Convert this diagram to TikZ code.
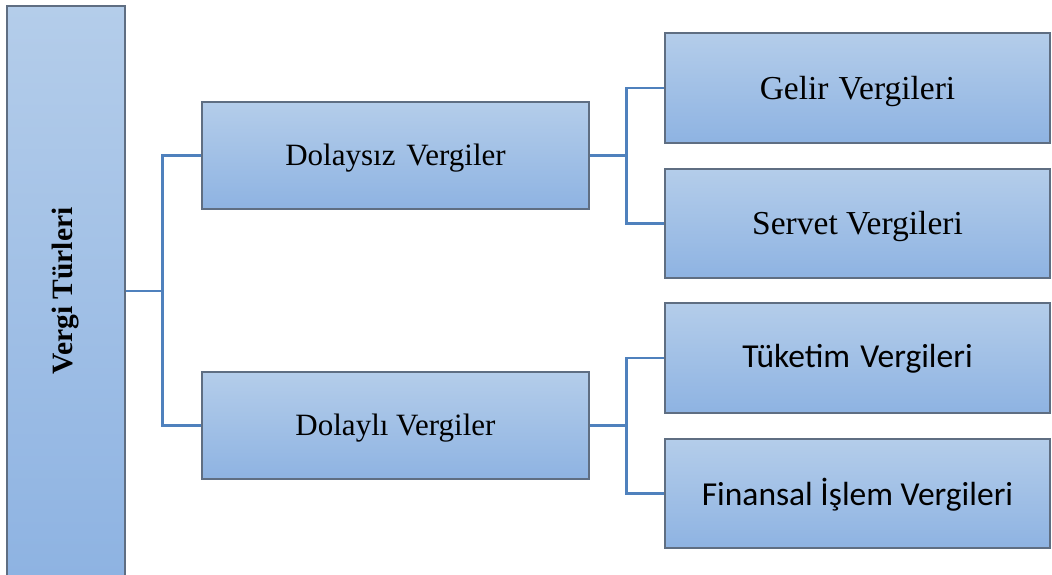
\documentclass[tikz,border=0pt]{standalone}
\usepackage{fontspec}
\setmainfont{Liberation Serif}
\newfontfamily\calib{Carlito}
\definecolor{boxtop}{HTML}{B4CDEA}
\definecolor{boxbot}{HTML}{8EB3E2}
\definecolor{boxline}{HTML}{5F6E82}
\definecolor{connline}{HTML}{4F81BD}
\newcommand{\lowr}[2]{\raisebox{-#1}[\height][\depth]{#2}}
\tikzset{
  box/.style={draw=boxline, line width=1.1pt, top color=boxtop, bottom color=boxbot,
    inner sep=0pt, text=black, align=center},
  conn/.style={draw=connline, line width=2.4pt},
}
\begin{document}
\begin{tikzpicture}[x=1pt,y=-1pt]
\useasboundingbox (0,0) rectangle (1052,574);
\begin{scope}
\clip (0,0) rectangle (1052,574);
\node[box, minimum width=118pt, minimum height=570pt] (L) at (66,291) {};
\node[rotate=90, font=\fontsize{29.5}{34}\selectfont\bfseries] (Lt) at (66,291) {Vergi Türleri};
\node[box, minimum width=387pt, minimum height=107pt, font=\fontsize{31}{36}\selectfont] (A) at (395.5,155.5) {\lowr{3pt}{Dolaysız\hspace{0.35em}Vergiler}};
\node[box, minimum width=387pt, minimum height=107pt, font=\fontsize{31}{36}\selectfont] (B) at (395.5,425.5) {\lowr{3pt}{Dolaylı Vergiler}};
\node[box, minimum width=385pt, minimum height=110pt, font=\fontsize{33.5}{38}\selectfont] (G) at (857.5,88) {\lowr{3pt}{Gelir\hspace{0.3em}Vergileri}};
\node[box, minimum width=385pt, minimum height=109pt, font=\fontsize{33.5}{38}\selectfont] (S) at (857.5,223.5) {\lowr{3pt}{Servet Vergileri}};
\node[box, minimum width=385pt, minimum height=110pt, font=\calib\fontsize{33.5}{38}\selectfont] (T) at (857.5,358) {\lowr{1pt}{Tüketim\hspace{0.3em}Vergileri}};
\node[box, minimum width=385pt, minimum height=109pt, font=\calib\fontsize{33.5}{38}\selectfont] (F) at (857.5,493.5) {\lowr{1pt}{Finansal İşlem Vergileri}};
\end{scope}
\draw[conn] (A.west) -- ++(-39,0) |- (L.east);
\draw[conn] (B.west) -- ++(-39,0) |- (L.east);
\draw[conn] (G.west) -- ++(-38,0) |- (A.east);
\draw[conn] (S.west) -- ++(-38,0) |- (A.east);
\draw[conn] (T.west) -- ++(-38,0) |- (B.east);
\draw[conn] (F.west) -- ++(-38,0) |- (B.east);
\end{tikzpicture}
\end{document}
